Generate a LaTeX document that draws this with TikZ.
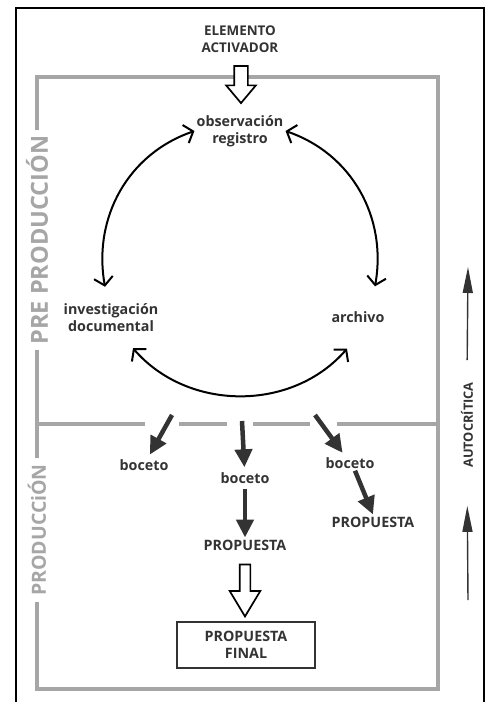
\documentclass[tikz,border=0pt]{standalone}
\usepackage{fontspec}
\setmainfont{Open Sans}
\usetikzlibrary{arrows.meta,shapes.arrows,calc}
\definecolor{txt}{HTML}{333333}
\definecolor{framegray}{HTML}{A6A6A6}
\tikzset{
  lbl/.style={font=\bfseries\fontsize{14.3}{17}\selectfont, text=txt, align=center, inner sep=2pt},
  capslbl/.style={font=\bfseries\fontsize{#1}{17}\selectfont, text=txt, align=center, inner sep=2pt},
  sidelbl/.style={font=\bfseries\fontsize{#1}{#1}\selectfont, text=framegray, fill=white, rotate=90, inner xsep=6pt, inner ysep=1pt},
  cyc/.style={line width=2pt, {Straight Barb[length=8pt,width=19pt]}-{Straight Barb[length=8pt,width=19pt]}},
  darr/.style={line width=4.5pt, draw=txt, -{Triangle[length=18pt,width=17pt]}},
  hollow/.style={single arrow, draw=black, line width=1.7pt, fill=white, rotate=-90, inner xsep=0pt},
  thinarr/.style={line width=1.4pt, draw=txt, -{Triangle[length=26pt,width=10pt]}},
  gline/.style={draw=framegray, line width=4pt},
  finalbox/.style={draw=txt, line width=1.8pt, minimum width=138pt, minimum height=46pt, font=\bfseries\fontsize{14.3}{17}\selectfont, text=txt, align=center},
}
\begin{document}
\begin{tikzpicture}[x=1pt,y=1pt]
\useasboundingbox (0,0) rectangle (490,-702);
\fill[white] (0,0) rectangle (490,-702);
% outer black border
\draw[black, line width=1.3pt] (16,-702) -- (16,-8) -- (484,-8) -- (484,-702);
% gray frame
\draw[gline] (37,-77) rectangle (438,-689);
\draw[gline] (37,-424) -- (145,-424);
\draw[gline] (179,-424) -- (227,-424);
\draw[gline] (253,-424) -- (310,-424);
\draw[gline] (337,-424) -- (438,-424);
% side labels
\node[sidelbl=23.5] (pre) at (37,-240) {PRE PRODUCCIÓN};
\node[sidelbl=19.5] (prod) at (37,-530) {PRODUCCiÓN};
% top
\node[capslbl=13.4] (elem) at (240,-39) {ELEMENTO\\ACTIVADOR};
\node[hollow, minimum height=37pt, inner ysep=6pt, single arrow head extend=8pt, single arrow tip angle=80] (act) at (241,-80.5) {};
% cycle
\node[lbl] (obs) at (240,-131) {observación\\registro};
\node[lbl] (inv) at (111,-318) {investigación\\documental};
\node[lbl] (arch) at (358,-317) {archivo};
\draw[cyc] (obs.west) to[out=199,in=100] ([shift={(-6,15)}]inv.north);
\draw[cyc] (obs.east) to[out=-19,in=80] ([shift={(17,23)}]arch.north);
\draw[cyc] ([shift={(22,-14)}]inv.south) to[out=-49,in=-131] ([shift={(-11,-24)}]arch.south);
% production
\node[lbl] (bo1) at (144,-465) {boceto};
\node[lbl] (bo2) at (245,-478) {boceto};
\node[lbl] (bo3) at (350,-463) {boceto};
\node[lbl] (pr2) at (245,-545) {PROPUESTA};
\node[lbl] (pr3) at (373,-522) {PROPUESTA};
\coordinate (s1) at (172,-415);
\coordinate (s2) at (242,-421);
\coordinate (s3) at (315,-415);
\draw[darr, shorten >=3pt] (s1) -- (bo1);
\draw[darr, shorten >=3pt] (s2) -- (bo2);
\draw[darr, shorten >=3pt] (s3) -- (bo3);
\draw[darr, shorten <=3pt] (bo2) -- (pr2);
\draw[darr] ([xshift=5pt]bo3.south) -- (pr3.north);
\node[hollow, minimum height=52pt, inner ysep=4.5pt, single arrow head extend=10pt, single arrow tip angle=62] (fin) at (245,-586) {};
\node[finalbox] (final) at (246,-645) {PROPUESTA\\FINAL};
% autocritica
\node[capslbl=12.8, rotate=90] (auto) at (467,-425) {AUTOCRÍTICA};
\coordinate (a1t) at (468,-267);
\coordinate (a2s) at (468,-600);
\draw[thinarr, shorten <=20pt] (auto.east) -- (a1t);
\draw[thinarr, shorten >=36pt] (a2s) -- (auto.west);
\end{tikzpicture}
\end{document}
